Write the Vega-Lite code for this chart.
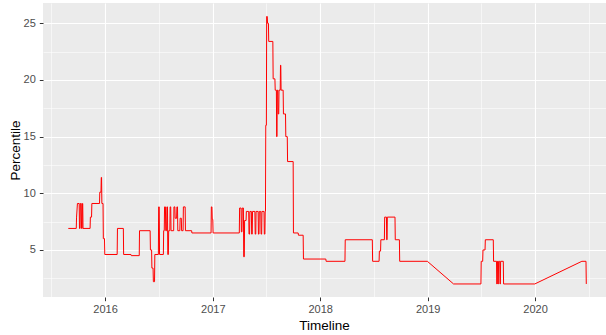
{
  "$schema": "https://vega.github.io/schema/vega-lite/v6.json",
  "width": 563,
  "height": 294,
  "autosize": "none",
  "padding": {"left": 43, "top": 3, "right": 0, "bottom": 38},
  "background": "white",
  "view": {"fill": "#EBEBEB", "stroke": null},
  "config": {
    "font": "Liberation Sans",
    "axis": {
      "domain": false,
      "gridColor": "white",
      "tickColor": "#333333",
      "tickSize": 3.7,
      "labelColor": "#4D4D4D",
      "labelFontSize": 11,
      "labelFont": "Liberation Sans",
      "titleFont": "Liberation Sans",
      "titleFontSize": 13.5,
      "titleFontWeight": "normal",
      "titleColor": "black"
    }
  },
  "data": {
    "values": [
      {"date": "2015-08-29", "pct": 6.9},
      {"date": "2015-09-25", "pct": 6.9},
      {"date": "2015-09-26", "pct": 7.9},
      {"date": "2015-09-29", "pct": 9.1},
      {"date": "2015-10-05", "pct": 9.1},
      {"date": "2015-10-06", "pct": 6.9},
      {"date": "2015-10-08", "pct": 6.9},
      {"date": "2015-10-09", "pct": 9.1},
      {"date": "2015-10-12", "pct": 9.1},
      {"date": "2015-10-13", "pct": 6.9},
      {"date": "2015-10-15", "pct": 6.9},
      {"date": "2015-10-16", "pct": 9.1},
      {"date": "2015-10-17", "pct": 9.1},
      {"date": "2015-10-18", "pct": 6.9},
      {"date": "2015-11-11", "pct": 6.9},
      {"date": "2015-11-12", "pct": 7.9},
      {"date": "2015-11-16", "pct": 7.9},
      {"date": "2015-11-17", "pct": 9.1},
      {"date": "2015-12-13", "pct": 9.1},
      {"date": "2015-12-14", "pct": 10.1},
      {"date": "2015-12-18", "pct": 10.1},
      {"date": "2015-12-19", "pct": 11.4},
      {"date": "2015-12-20", "pct": 11.4},
      {"date": "2015-12-21", "pct": 9.1},
      {"date": "2015-12-25", "pct": 9.1},
      {"date": "2015-12-26", "pct": 6.0},
      {"date": "2015-12-30", "pct": 6.0},
      {"date": "2015-12-31", "pct": 4.6},
      {"date": "2016-02-11", "pct": 4.6},
      {"date": "2016-02-12", "pct": 6.9},
      {"date": "2016-03-03", "pct": 6.9},
      {"date": "2016-03-04", "pct": 4.6},
      {"date": "2016-03-29", "pct": 4.6},
      {"date": "2016-03-30", "pct": 4.5},
      {"date": "2016-04-26", "pct": 4.5},
      {"date": "2016-04-27", "pct": 6.7},
      {"date": "2016-06-02", "pct": 6.7},
      {"date": "2016-06-03", "pct": 5.0},
      {"date": "2016-06-07", "pct": 5.0},
      {"date": "2016-06-08", "pct": 3.4},
      {"date": "2016-06-12", "pct": 3.4},
      {"date": "2016-06-13", "pct": 2.2},
      {"date": "2016-06-17", "pct": 2.2},
      {"date": "2016-06-18", "pct": 4.6},
      {"date": "2016-06-30", "pct": 4.6},
      {"date": "2016-07-01", "pct": 8.8},
      {"date": "2016-07-03", "pct": 8.8},
      {"date": "2016-07-04", "pct": 4.6},
      {"date": "2016-07-17", "pct": 4.6},
      {"date": "2016-07-18", "pct": 6.7},
      {"date": "2016-07-20", "pct": 6.7},
      {"date": "2016-07-21", "pct": 8.8},
      {"date": "2016-07-24", "pct": 8.8},
      {"date": "2016-07-25", "pct": 6.7},
      {"date": "2016-07-28", "pct": 6.7},
      {"date": "2016-07-29", "pct": 8.8},
      {"date": "2016-07-31", "pct": 8.8},
      {"date": "2016-08-01", "pct": 4.6},
      {"date": "2016-08-03", "pct": 4.6},
      {"date": "2016-08-04", "pct": 6.7},
      {"date": "2016-08-08", "pct": 6.7},
      {"date": "2016-08-09", "pct": 8.8},
      {"date": "2016-08-11", "pct": 8.8},
      {"date": "2016-08-12", "pct": 6.7},
      {"date": "2016-08-21", "pct": 6.7},
      {"date": "2016-08-22", "pct": 8.8},
      {"date": "2016-08-25", "pct": 8.8},
      {"date": "2016-08-26", "pct": 7.8},
      {"date": "2016-08-31", "pct": 7.8},
      {"date": "2016-09-01", "pct": 8.8},
      {"date": "2016-09-03", "pct": 8.8},
      {"date": "2016-09-04", "pct": 6.7},
      {"date": "2016-09-11", "pct": 6.7},
      {"date": "2016-09-12", "pct": 7.8},
      {"date": "2016-09-16", "pct": 7.8},
      {"date": "2016-09-17", "pct": 6.7},
      {"date": "2016-09-22", "pct": 6.7},
      {"date": "2016-09-23", "pct": 8.8},
      {"date": "2016-09-29", "pct": 8.8},
      {"date": "2016-09-30", "pct": 6.7},
      {"date": "2016-10-21", "pct": 6.7},
      {"date": "2016-10-22", "pct": 6.5},
      {"date": "2016-12-26", "pct": 6.5},
      {"date": "2016-12-27", "pct": 8.8},
      {"date": "2016-12-29", "pct": 8.8},
      {"date": "2016-12-30", "pct": 7.7},
      {"date": "2017-01-01", "pct": 7.7},
      {"date": "2017-01-02", "pct": 6.5},
      {"date": "2017-04-01", "pct": 6.5},
      {"date": "2017-04-02", "pct": 8.7},
      {"date": "2017-04-07", "pct": 8.7},
      {"date": "2017-04-08", "pct": 6.6},
      {"date": "2017-04-10", "pct": 6.6},
      {"date": "2017-04-11", "pct": 8.7},
      {"date": "2017-04-15", "pct": 8.7},
      {"date": "2017-04-16", "pct": 4.4},
      {"date": "2017-04-18", "pct": 4.4},
      {"date": "2017-04-19", "pct": 7.6},
      {"date": "2017-04-24", "pct": 7.6},
      {"date": "2017-04-25", "pct": 8.4},
      {"date": "2017-05-03", "pct": 8.4},
      {"date": "2017-05-04", "pct": 6.4},
      {"date": "2017-05-06", "pct": 6.4},
      {"date": "2017-05-07", "pct": 8.4},
      {"date": "2017-05-12", "pct": 8.4},
      {"date": "2017-05-13", "pct": 6.4},
      {"date": "2017-05-15", "pct": 6.4},
      {"date": "2017-05-16", "pct": 8.4},
      {"date": "2017-05-24", "pct": 8.4},
      {"date": "2017-05-25", "pct": 6.4},
      {"date": "2017-05-27", "pct": 6.4},
      {"date": "2017-05-28", "pct": 8.4},
      {"date": "2017-06-04", "pct": 8.4},
      {"date": "2017-06-05", "pct": 6.4},
      {"date": "2017-06-07", "pct": 6.4},
      {"date": "2017-06-08", "pct": 8.4},
      {"date": "2017-06-13", "pct": 8.4},
      {"date": "2017-06-14", "pct": 6.4},
      {"date": "2017-06-16", "pct": 6.4},
      {"date": "2017-06-17", "pct": 8.4},
      {"date": "2017-06-24", "pct": 8.4},
      {"date": "2017-06-25", "pct": 6.4},
      {"date": "2017-06-27", "pct": 6.4},
      {"date": "2017-06-28", "pct": 8.4},
      {"date": "2017-06-29", "pct": 8.4},
      {"date": "2017-06-30", "pct": 16.0},
      {"date": "2017-07-02", "pct": 16.0},
      {"date": "2017-07-03", "pct": 25.6},
      {"date": "2017-07-05", "pct": 25.6},
      {"date": "2017-07-06", "pct": 25.0},
      {"date": "2017-07-09", "pct": 25.0},
      {"date": "2017-07-10", "pct": 23.4},
      {"date": "2017-07-24", "pct": 23.4},
      {"date": "2017-07-25", "pct": 20.1},
      {"date": "2017-07-31", "pct": 20.1},
      {"date": "2017-08-01", "pct": 19.1},
      {"date": "2017-08-05", "pct": 19.1},
      {"date": "2017-08-06", "pct": 15.0},
      {"date": "2017-08-07", "pct": 15.0},
      {"date": "2017-08-08", "pct": 19.1},
      {"date": "2017-08-10", "pct": 19.1},
      {"date": "2017-08-11", "pct": 17.0},
      {"date": "2017-08-13", "pct": 17.0},
      {"date": "2017-08-14", "pct": 19.1},
      {"date": "2017-08-18", "pct": 19.1},
      {"date": "2017-08-19", "pct": 21.3},
      {"date": "2017-08-20", "pct": 21.3},
      {"date": "2017-08-21", "pct": 19.1},
      {"date": "2017-08-28", "pct": 19.1},
      {"date": "2017-08-29", "pct": 17.0},
      {"date": "2017-09-05", "pct": 17.0},
      {"date": "2017-09-06", "pct": 15.0},
      {"date": "2017-09-11", "pct": 15.0},
      {"date": "2017-09-12", "pct": 12.8},
      {"date": "2017-10-01", "pct": 12.8},
      {"date": "2017-10-02", "pct": 6.5},
      {"date": "2017-10-18", "pct": 6.5},
      {"date": "2017-10-19", "pct": 6.3},
      {"date": "2017-11-04", "pct": 6.3},
      {"date": "2017-11-05", "pct": 4.2},
      {"date": "2018-01-20", "pct": 4.2},
      {"date": "2018-01-21", "pct": 4.0},
      {"date": "2018-03-26", "pct": 4.0},
      {"date": "2018-03-27", "pct": 5.9},
      {"date": "2018-06-27", "pct": 5.9},
      {"date": "2018-06-28", "pct": 4.0},
      {"date": "2018-07-20", "pct": 4.0},
      {"date": "2018-07-21", "pct": 4.9},
      {"date": "2018-07-25", "pct": 4.9},
      {"date": "2018-07-26", "pct": 5.9},
      {"date": "2018-08-07", "pct": 5.9},
      {"date": "2018-08-08", "pct": 7.9},
      {"date": "2018-08-14", "pct": 7.9},
      {"date": "2018-08-15", "pct": 5.9},
      {"date": "2018-08-16", "pct": 5.9},
      {"date": "2018-08-17", "pct": 7.9},
      {"date": "2018-09-12", "pct": 7.9},
      {"date": "2018-09-13", "pct": 5.9},
      {"date": "2018-09-27", "pct": 5.9},
      {"date": "2018-09-28", "pct": 4.0},
      {"date": "2018-12-31", "pct": 4.0},
      {"date": "2019-03-30", "pct": 2.0},
      {"date": "2019-07-01", "pct": 2.0},
      {"date": "2019-07-02", "pct": 4.0},
      {"date": "2019-07-07", "pct": 4.0},
      {"date": "2019-07-08", "pct": 5.0},
      {"date": "2019-07-15", "pct": 5.0},
      {"date": "2019-07-16", "pct": 5.9},
      {"date": "2019-08-12", "pct": 5.9},
      {"date": "2019-08-13", "pct": 4.0},
      {"date": "2019-08-23", "pct": 4.0},
      {"date": "2019-08-24", "pct": 2.0},
      {"date": "2019-08-25", "pct": 2.0},
      {"date": "2019-08-26", "pct": 4.0},
      {"date": "2019-08-27", "pct": 4.0},
      {"date": "2019-08-28", "pct": 2.0},
      {"date": "2019-08-29", "pct": 2.0},
      {"date": "2019-08-30", "pct": 4.0},
      {"date": "2019-09-03", "pct": 4.0},
      {"date": "2019-09-04", "pct": 2.0},
      {"date": "2019-09-05", "pct": 2.0},
      {"date": "2019-09-06", "pct": 4.0},
      {"date": "2019-09-15", "pct": 4.0},
      {"date": "2019-09-16", "pct": 2.0},
      {"date": "2019-12-31", "pct": 2.0},
      {"date": "2020-06-08", "pct": 4.0},
      {"date": "2020-06-22", "pct": 4.0},
      {"date": "2020-06-23", "pct": 2.0}
    ]
  },
  "mark": {"type": "line", "color": "#FF0000", "strokeWidth": 1, "interpolate": "linear"},
  "encoding": {
    "x": {
      "field": "date",
      "type": "temporal",
      "scale": {
        "type": "utc",
        "domain": [
          {"year": 2015, "month": 6, "date": 4, "utc": true},
          {"year": 2020, "month": 8, "date": 29, "utc": true}
        ]
      },
      "axis": {
        "title": "Timeline",
        "values": [
          {"year": 2015, "month": 7, "date": 2, "utc": true},
          {"year": 2016, "month": 1, "date": 1, "utc": true},
          {"year": 2016, "month": 7, "date": 2, "utc": true},
          {"year": 2017, "month": 1, "date": 1, "utc": true},
          {"year": 2017, "month": 7, "date": 2, "utc": true},
          {"year": 2018, "month": 1, "date": 1, "utc": true},
          {"year": 2018, "month": 7, "date": 2, "utc": true},
          {"year": 2019, "month": 1, "date": 1, "utc": true},
          {"year": 2019, "month": 7, "date": 2, "utc": true},
          {"year": 2020, "month": 1, "date": 1, "utc": true},
          {"year": 2020, "month": 7, "date": 2, "utc": true}
        ],
        "labelExpr": "utcmonth(datum.value) === 0 ? utcFormat(datum.value, '%Y') : ''",
        "labelPadding": 3,
        "labelFlush": false,
        "labelOverlap": false,
        "grid": true,
        "gridWidth": {"condition": {"test": "utcmonth(datum.value) === 0", "value": 1.1}, "value": 0.55},
        "tickOpacity": {"condition": {"test": "utcmonth(datum.value) === 0", "value": 1}, "value": 0},
        "titleX": 281,
        "titleY": 28,
        "titleBaseline": "middle",
        "titleAlign": "center"
      }
    },
    "y": {
      "field": "pct",
      "type": "quantitative",
      "scale": {"domain": [0.85, 26.79], "nice": false, "zero": false},
      "axis": {
        "title": "Percentile",
        "values": [2.5, 5, 7.5, 10, 12.5, 15, 17.5, 20, 22.5, 25],
        "labelExpr": "datum.value % 5 === 0 ? datum.label : ''",
        "labelPadding": 4,
        "grid": true,
        "gridWidth": {"condition": {"test": "datum.value % 5 === 0", "value": 1.1}, "value": 0.55},
        "tickOpacity": {"condition": {"test": "datum.value % 5 === 0", "value": 1}, "value": 0},
        "titleX": -28,
        "titleY": 147,
        "titleAngle": -90,
        "titleBaseline": "middle",
        "titleAlign": "center"
      }
    }
  }
}
